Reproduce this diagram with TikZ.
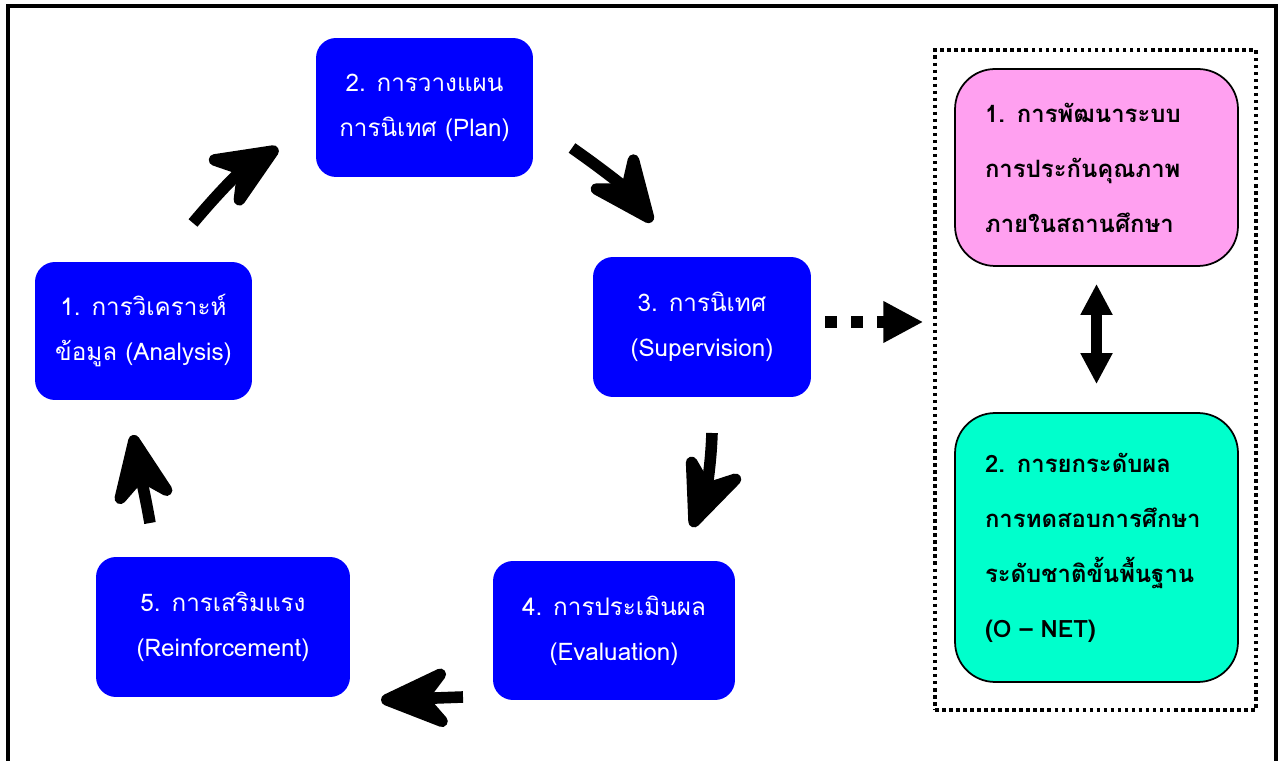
\documentclass[tikz,border=0pt]{standalone}
\usepackage{fontspec}
\newfontfamily\thaifont[Script=Thai]{Loma}
\usetikzlibrary{arrows.meta}
\usetikzlibrary{positioning}
\definecolor{stepblue}{RGB}{0, 0, 255}
\definecolor{orchidpink}{RGB}{255, 160, 240}
\definecolor{aquamint}{RGB}{0, 255, 204}

\tikzset{
    stepbox/.style={fill=stepblue, rounded corners=0.4cm, text=white, align=center,
                    inner sep=0pt, font=\thaifont\fontsize{13.8}{25.6}\selectfont},
    goalbox/.style={draw=black, line width=1pt, rounded corners=0.8cm, align=left,
                    text width=4.46cm, minimum width=5.66cm, inner sep=0pt,
                    font=\thaifont\bfseries\fontsize{13.6}{31.3}\selectfont},
    cyclearrow/.style={line width=6.6pt, -{Stealth[length=1.75cm, width=1.5cm, inset=0.6cm, round]}},
    dotarrow/.style={line width=6.8pt, dash pattern=on 6.8pt off 7.9pt,
                     -{Triangle[length=0.8cm, width=0.78cm]}},
    linkarrow/.style={line width=6.2pt, {Triangle[length=0.62cm, width=0.6cm]}-{Triangle[length=0.62cm, width=0.6cm]}}
}

\begin{document}
\begin{tikzpicture}[x=0.02cm, y=0.02cm]
            \useasboundingbox (0,0) rectangle (1283,760);
            \clip (0,0) rectangle (1283,760);
            % Outer frame
            \draw[line width=2.3pt] (8,-10) -- (8,754) -- (1276,754) -- (1276,-10);
            % Cycle boxes
            \node[stepbox, minimum width=4.34cm, minimum height=2.78cm] (plan)        at ( 424.5, 652.5) {2. การวางแผน\\การนิเทศ (Plan)};
            \node[stepbox, minimum width=4.36cm, minimum height=2.80cm] (supervision) at ( 702.0, 433.0) {3. การนิเทศ\\(Supervision)};
            \node[stepbox, minimum width=4.34cm, minimum height=2.76cm] (analysis)    at ( 143.5, 429.0) {1. การวิเคราะห์\\ข้อมูล (Analysis)};
            \node[stepbox, minimum width=4.84cm, minimum height=2.78cm] (evaluation)  at ( 614.0, 129.5) {4. การประเมินผล\\(Evaluation)};
            \node[stepbox, minimum width=5.08cm, minimum height=2.80cm] (reinforce)   at ( 223.0, 133.0) {5. การเสริมแรง\\(Reinforcement)};
            % Cycle arrows
            \coordinate (a12s) at (193, 537); \coordinate (a12e) at (278, 612);
            \coordinate (a23s) at (572, 612); \coordinate (a23e) at (652, 538);
            \coordinate (a34s) at (712, 327); \coordinate (a34e) at (692, 233);
            \coordinate (a45s) at (463,  63); \coordinate (a45e) at (381,  60);
            \coordinate (a51s) at (150, 237); \coordinate (a51e) at (133, 325);
            \draw[cyclearrow] (a12s) to[out=50,  in=212] (a12e);
            \draw[cyclearrow] (a23s) to[out=-35, in=128] (a23e);
            \draw[cyclearrow] (a34s) to[out=-92, in=69]  (a34e);
            \draw[cyclearrow] (a45s) -- (a45e);
            \draw[cyclearrow] (a51s) to[out=100, in=-80] (a51e);
            % Goal panel
            \node[draw, line width=2pt, dash pattern=on 2pt off 2pt, minimum width=6.42cm,
                  minimum height=13.2cm, inner sep=0pt] (panel) at (1095.5, 380) {};
            \node[goalbox, fill=orchidpink, minimum height=3.94cm] (quality) at (1096.5, 592.5)
                 {1. การพัฒนาระบบ\\การประกันคุณภาพ\\ภายในสถานศึกษา};
            \node[goalbox, fill=aquamint, minimum height=5.38cm] (onet) at (1096.5, 212.5)
                 {2. การยกระดับผล\\การทดสอบการศึกษา\\ระดับชาติขั้นพื้นฐาน\\(O – NET)};
            % Links
            \draw[dotarrow, shorten <=0.28cm, shorten >=0.2cm] ([yshift=0.1cm]supervision.east) -- ([yshift=0.1cm]supervision.east -| panel.west);
            \draw[linkarrow, shorten <=0.34cm, shorten >=0.56cm] (quality.south) -- (onet.north);
\end{tikzpicture}
\end{document}
